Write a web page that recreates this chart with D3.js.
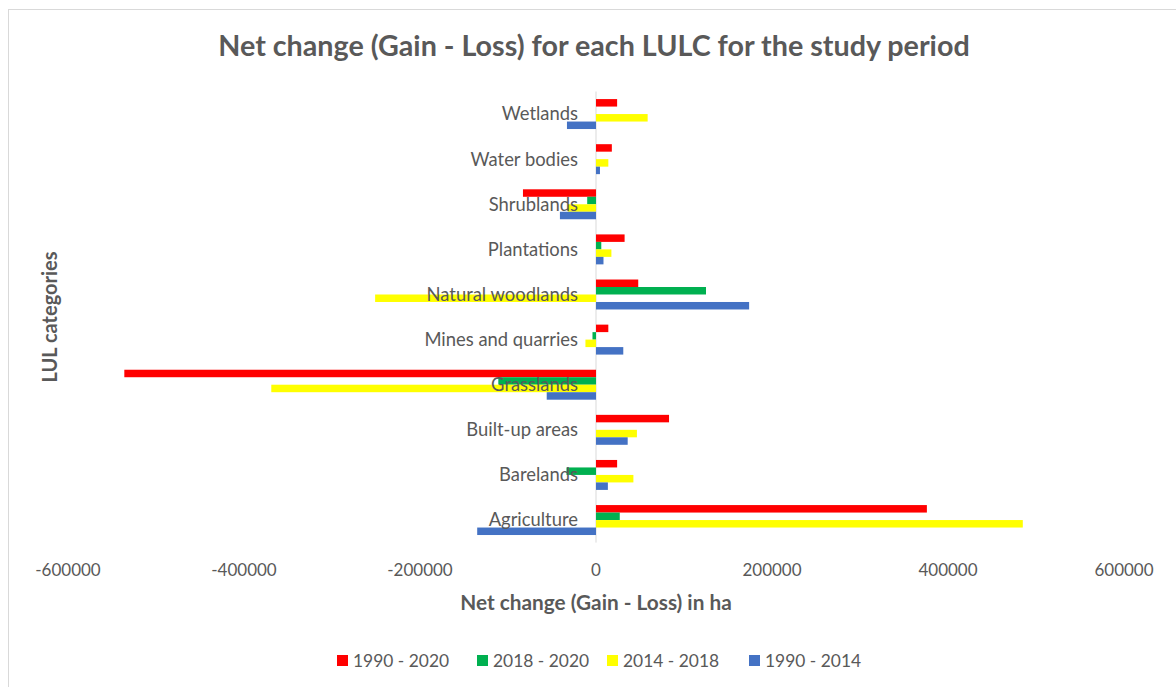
<!DOCTYPE html>
<html>
<head>
<meta charset="utf-8">
<script src="https://cdn.jsdelivr.net/npm/d3@7"></script>
<style>
  body { margin: 0; background: #fff; }
  text { font-family: Lato, "Open Sans", sans-serif; fill: #595959; }
</style>
</head>
<body>
<script>
// categories top to bottom
const categories = ['Wetlands', 'Water bodies', 'Shrublands', 'Plantations', 'Natural woodlands',
  'Mines and quarries', 'Grasslands', 'Built-up areas', 'Barelands', 'Agriculture'];
const seriesNames = ['1990 - 2020', '2018 - 2020', '2014 - 2018', '1990 - 2014'];
const seriesColors = ['#ff0000', '#00b050', '#ffff00', '#4472c4'];

// values in ha, same order as categories
const v1990_2020 = [24000, 18000, -83000, 32500, 48000, 14000, -536000, 83000, 24000, 376000];
const v2018_2020 = [0, 0, -10000, 6000, 125000, -4000, -111000, 0, -33500, 27000];
const v2014_2018 = [58700, 14000, -32000, 17500, -251000, -12000, -369000, 46500, 42500, 485000];
const v1990_2014 = [-33000, 4500, -41000, 8500, 174000, 31000, -56000, 36000, 13500, -135000];
const xTicks = [-600000, -400000, -200000, 0, 200000, 400000, 600000];

const seriesValues = [v1990_2020, v2018_2020, v2014_2018, v1990_2014];

const width = 1176, height = 687;
const svg = d3.select('body').append('svg')
  .attr('width', width)
  .attr('height', height);

// chart border
svg.append('rect')
  .attr('x', 8.5).attr('y', 9.5)
  .attr('width', width + 10).attr('height', height + 10)
  .attr('fill', 'none')
  .attr('stroke', '#d9d9d9')

const plot = {top: 91.5, bottom: 542.6, left: 68, right: 1124};

let xScale = d3.scaleLinear().domain([-600000, 600000]).range([plot.left, plot.right]);
let yScale = d3.scaleBand().domain(categories).range([plot.top, plot.bottom]);
let step = yScale.bandwidth();
let inner = d3.scaleBand().domain(seriesNames)
  .range([step * 0.168, step * 0.832]);

// title
svg.append('text')
  .attr('x', 594)
  .attr('y', 56)
  .attr('text-anchor', 'middle')
  .style('font-size', '28.7px')
  .style('font-weight', 'bold')
  .text('Net change (Gain - Loss) for each LULC for the study period')

// bars
let rows = [];
categories.forEach((c, i) => {
  seriesNames.forEach((s, j) => {
    rows.push({cat: c, series: s, value: seriesValues[j][i], color: seriesColors[j]});
  });
});

// zero line
svg.append('line')
  .attr('x1', xScale(0)).attr('x2', xScale(0))
  .attr('y1', plot.top).attr('y2', plot.bottom)
  .attr('stroke', '#d9d9d9')
  .attr('stroke-width', 1)

svg.append('g')
  .selectAll('rect')
  .data(rows.filter(d => d.value !== 0))
  .enter()
  .append('rect')
  .attr('x', d => xScale(Math.min(0, d.value)))
  .attr('y', d => yScale(d.cat) + inner(d.series))
  .attr('width', d => Math.abs(xScale(d.value) - xScale(0)))
  .attr('height', inner.bandwidth())
  .attr('fill', d => d.color)

// category labels, on top of the bars like the original
svg.append('g')
  .selectAll('text')
  .data(categories)
  .enter()
  .append('text')
  .attr('x', xScale(0) - 18)
  .attr('y', d => yScale(d) + step / 2)
  .attr('dy', '0.35em')
  .attr('text-anchor', 'end')
  .style('font-size', '18.4px')
  .text(d => d)

// x tick labels
svg.append('g')
  .selectAll('text')
  .data(xTicks)
  .enter()
  .append('text')
  .attr('x', d => xScale(d))
  .attr('y', 576)
  .attr('text-anchor', 'middle')
  .style('font-size', '17px')
  .text(d => d)

// axis titles
svg.append('text')
  .attr('x', xScale(0))
  .attr('y', 610)
  .attr('text-anchor', 'middle')
  .style('font-size', '20.8px')
  .style('font-weight', 'bold')
  .text('Net change (Gain - Loss) in ha')

svg.append('text')
  .attr('transform', 'translate(57,317) rotate(-90)')
  .attr('text-anchor', 'middle')
  .style('font-size', '20px')
  .style('font-weight', 'bold')
  .text('LUL categories')

// legend
let legendX = [337, 477, 607, 749];
let legend = svg.append('g')
  .selectAll('g')
  .data(seriesNames)
  .enter()
  .append('g')
  .attr('transform', (d, i) => 'translate(' + legendX[i] + ',655)')

legend.append('rect')
  .attr('width', 11)
  .attr('height', 11)
  .attr('fill', (d, i) => seriesColors[i])

legend.append('text')
  .attr('x', 16)
  .attr('y', 6)
  .attr('dy', '0.35em')
  .style('font-size', '17.4px')
  .text(d => d)
</script>
</body>
</html>
